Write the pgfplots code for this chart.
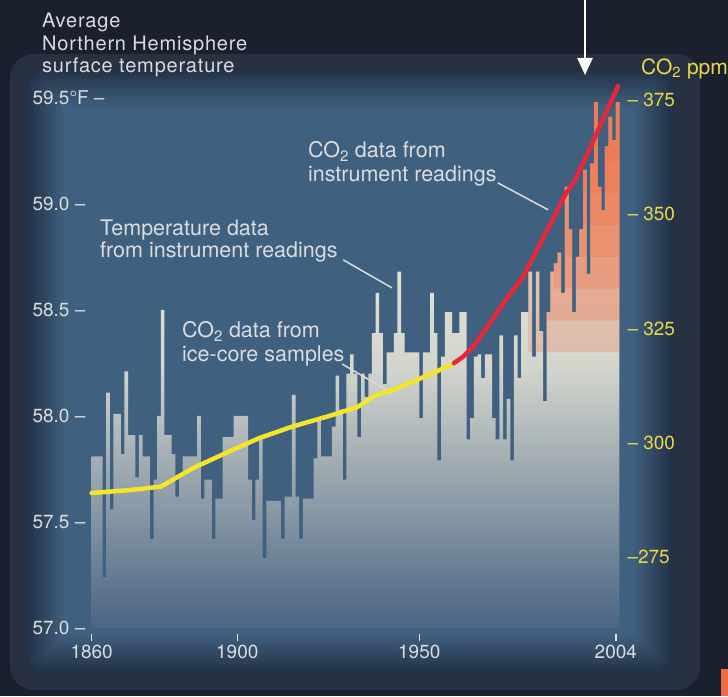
\documentclass[border=0pt]{standalone}
\usepackage{fontspec}
\setmainfont{TeX Gyre Heros}
\newfontfamily\widefont[LetterSpace=4]{TeX Gyre Heros}
\usepackage{pgfplots}
\pgfplotsset{compat=1.18}
\usetikzlibrary{arrows.meta}
\definecolor{bgdark}{HTML}{1A202D}
\definecolor{framec}{HTML}{283140}
\definecolor{panel}{HTML}{40607F}
\definecolor{paneledge}{HTML}{223145}
\definecolor{barlow}{HTML}{4A6583}
\definecolor{barmid}{HTML}{D4D6CE}
\definecolor{bartop}{HTML}{F8F1DA}
\definecolor{hot}{HTML}{EF6A40}
\definecolor{co2yellow}{HTML}{F4E52C}
\definecolor{co2red}{HTML}{E6283A}
\definecolor{labelyellow}{HTML}{E8D94A}
\definecolor{txt}{HTML}{DADCDE}
\pgfplotsset{warm/.style={const plot mark left, draw=none, fill=hot, fill opacity=0.24}}

\begin{document}
\begin{tikzpicture}[x=1pt,y=1pt]
% page background and panel
\fill[bgdark] (0,0) rectangle (728,696);
\fill[framec, rounded corners=24pt] (10,6) rectangle (700,642);
\foreach \i in {0,...,14} {
  \pgfmathsetmacro\ins{\i*2.8}
  \pgfmathsetmacro\mix{\i*100/14}
  \pgfmathsetmacro\rc{max(20-\ins,2)}
  \fill[panel!\mix!paneledge, rounded corners=\rc pt]
    (25+\ins,21+\ins) rectangle (674-\ins,628-\ins);
}

\begin{axis}[
  at={(88pt,61.6pt)}, anchor=south west,
  scale only axis, width=536pt, height=562pt,
  xmin=1859, xmax=2006.24, ymin=56.97, ymax=59.62,
  clip=false,
  axis line style={draw=none},
  xtick={1860,1900,1950,2004},
  xticklabels={1860,1900,1950,2004},
  xtick pos=bottom, ytick pos=left,
  tick align=outside,
  major tick length=7pt,
  x tick style={draw=txt, line width=1.3pt},
  y tick style={draw=none},
  ytick={57,57.5,58,58.5,59,59.5},
  yticklabels={57.0 --, 57.5 --, 58.0 --, 58.5 --, 59.0 --, 59.5°F --},
  yticklabel style={anchor=west, xshift=-52pt, text=txt, font=\fontsize{19}{19}\selectfont},
  xticklabel style={text=txt, font=\fontsize{19}{19}\selectfont},
  /pgf/number format/assume math mode=true,
]
% temperature bars (annual values, deg F)
\addplot[const plot mark left, draw=none,
  top color=bartop, bottom color=barlow, middle color=barmid]
coordinates {
(1860,57.0)
(1860,57.81)(1861,57.81)(1862,57.81)(1863,57.24)(1864,58.11)(1865,57.56)(1866,58.01)(1867,58.01)(1868,57.82)(1869,58.21)
(1870,57.91)(1871,57.91)(1872,57.71)(1873,57.91)(1874,57.81)(1875,57.81)(1876,57.42)(1877,57.70)(1878,58.00)(1879,58.50)
(1880,57.91)(1881,57.91)(1882,57.82)(1883,57.62)(1884,57.71)(1885,57.81)(1886,57.81)(1887,57.81)(1888,57.81)(1889,58.00)
(1890,57.61)(1891,57.70)(1892,57.70)(1893,57.42)(1894,57.61)(1895,57.61)(1896,57.90)(1897,57.90)(1898,57.90)(1899,58.00)
(1900,58.00)(1901,58.00)(1902,58.00)(1903,57.70)(1904,57.51)(1905,57.70)(1906,57.90)(1907,57.33)(1908,57.60)(1909,57.60)
(1910,57.60)(1911,57.60)(1912,57.42)(1913,57.62)(1914,57.62)(1915,58.10)(1916,57.62)(1917,57.42)(1918,57.61)(1919,57.61)
(1920,57.61)(1921,57.80)(1922,57.99)(1923,57.81)(1924,57.81)(1925,57.81)(1926,57.95)(1927,58.19)(1928,58.03)(1929,57.70)
(1930,58.20)(1931,58.29)(1932,58.20)(1933,57.90)(1934,58.20)(1935,58.09)(1936,58.20)(1937,58.39)(1938,58.58)(1939,58.39)
(1940,58.15)(1941,58.30)(1942,58.30)(1943,58.39)(1944,58.68)(1945,58.39)(1946,58.30)(1947,58.30)(1948,58.30)(1949,58.30)
(1950,57.99)(1951,58.30)(1952,58.30)(1953,58.58)(1954,58.39)(1955,57.79)(1956,58.28)(1957,58.49)(1958,58.49)(1959,58.39)
(1960,58.39)(1961,58.49)(1962,58.49)(1963,57.89)(1964,57.99)(1965,58.28)(1966,58.29)(1967,58.18)(1968,58.29)(1969,58.29)
(1970,57.99)(1971,57.89)(1972,58.38)(1973,57.89)(1974,58.08)(1975,57.79)(1976,58.38)(1977,58.18)(1978,58.49)(1979,58.49)
(1980,58.68)(1981,58.28)(1982,58.68)(1983,58.40)(1984,58.07)(1985,58.49)(1986,58.68)(1987,58.72)(1988,58.77)(1989,58.58)
(1990,59.08)(1991,58.88)(1992,58.49)(1993,58.75)(1994,58.88)(1995,59.16)(1996,58.67)(1997,59.19)(1998,59.48)(1999,59.08)
(2000,58.97)(2001,59.27)(2002,59.41)(2003,59.30)(2004,59.48)
(2005,59.48)(2005,57.0)
};
% warm tint of the recent bars: same values, stacked translucent layers above rising floors
\addplot[warm] coordinates {(1980,58.30)(1980,58.68)(1981,58.30)(1982,58.68)(1983,58.40)(1984,58.30)(1985,58.49)(1986,58.68)(1987,58.72)(1988,58.77)(1989,58.58)(1990,59.08)(1991,58.88)(1992,58.49)(1993,58.75)(1994,58.88)(1995,59.16)(1996,58.67)(1997,59.19)(1998,59.48)(1999,59.08)(2000,58.97)(2001,59.27)(2002,59.41)(2003,59.30)(2004,59.48)(2005,59.48)(2005,58.30)};
\addplot[warm] coordinates {(1984,58.45)(1984,58.45)(1985,58.49)(1986,58.68)(1987,58.72)(1988,58.77)(1989,58.58)(1990,59.08)(1991,58.88)(1992,58.49)(1993,58.75)(1994,58.88)(1995,59.16)(1996,58.67)(1997,59.19)(1998,59.48)(1999,59.08)(2000,58.97)(2001,59.27)(2002,59.41)(2003,59.30)(2004,59.48)(2005,59.48)(2005,58.45)};
\addplot[warm] coordinates {(1987,58.60)(1987,58.72)(1988,58.77)(1989,58.60)(1990,59.08)(1991,58.88)(1992,58.60)(1993,58.75)(1994,58.88)(1995,59.16)(1996,58.67)(1997,59.19)(1998,59.48)(1999,59.08)(2000,58.97)(2001,59.27)(2002,59.41)(2003,59.30)(2004,59.48)(2005,59.48)(2005,58.60)};
\addplot[warm] coordinates {(1990,58.75)(1990,59.08)(1991,58.88)(1992,58.75)(1993,58.75)(1994,58.88)(1995,59.16)(1996,58.75)(1997,59.19)(1998,59.48)(1999,59.08)(2000,58.97)(2001,59.27)(2002,59.41)(2003,59.30)(2004,59.48)(2005,59.48)(2005,58.75)};
\addplot[warm] coordinates {(1993,58.90)(1993,58.90)(1994,58.90)(1995,59.16)(1996,58.90)(1997,59.19)(1998,59.48)(1999,59.08)(2000,58.97)(2001,59.27)(2002,59.41)(2003,59.30)(2004,59.48)(2005,59.48)(2005,58.90)};
\addplot[warm] coordinates {(1995,59.05)(1995,59.16)(1996,59.05)(1997,59.19)(1998,59.48)(1999,59.08)(2000,59.05)(2001,59.27)(2002,59.41)(2003,59.30)(2004,59.48)(2005,59.48)(2005,59.05)};
\addplot[warm] coordinates {(1997,59.20)(1997,59.20)(1998,59.48)(1999,59.20)(2000,59.20)(2001,59.27)(2002,59.41)(2003,59.30)(2004,59.48)(2005,59.48)(2005,59.20)};
% annotations
\draw[txt, line width=1.5pt] (axis cs:1929.1,58.736) -- (axis cs:1942.5,58.604);
\draw[txt, line width=1.5pt] (axis cs:1928.8,58.245) -- (axis cs:1942.5,58.108);
\draw[txt, line width=1.5pt] (axis cs:1971.6,59.099) -- (axis cs:1985.4,58.972);
\node[anchor=north west, align=left, inner sep=0pt, text=txt, font=\fontsize{21.5}{22}\selectfont]
  at (axis cs:1862.3,58.925) {Temperature data\\from instrument readings};
\node[anchor=north west, align=left, inner sep=0pt, text=txt, font=\fontsize{21.5}{23.5}\selectfont]
  at (axis cs:1884.8,58.445) {CO\textsubscript{2} data from\\ice-core samples};
\node[anchor=north west, align=left, inner sep=0pt, text=txt, font=\fontsize{21.5}{23.5}\selectfont]
  at (axis cs:1919.4,59.295) {CO\textsubscript{2} data from\\instrument readings};
\end{axis}

\begin{axis}[
  at={(88pt,61.6pt)}, anchor=south west,
  scale only axis, width=536pt, height=562pt,
  xmin=1859, xmax=2006.24, ymin=258.06, ymax=381.04,
  clip=false,
  hide x axis,
  axis y line*=right,
  axis line style={draw=none},
  y tick style={draw=none},
  ytick={275,300,325,350,375},
  yticklabels={--275, -- 300, -- 325, -- 350, -- 375},
  yticklabel style={anchor=west, xshift=0pt, text=labelyellow, font=\fontsize{19}{19}\selectfont},
  /pgf/number format/assume math mode=true,
]
% CO2 from ice cores (ppm)
\addplot[co2yellow, line width=4.5pt, line cap=round, line join=round]
coordinates {
(1860,289.0)(1870,289.6)(1879,290.4)(1888,294.5)(1897,297.8)(1906,301.0)(1915,303.5)
(1925,305.8)(1933,307.8)(1938,310.4)(1943,311.6)(1948,313.3)(1954,315.3)(1959.5,317.4)
};
% CO2 from instrument readings (ppm)
\addplot[co2red, line width=4.5pt, line cap=round, line join=round]
coordinates {
(1959.5,317.4)(1962,318.8)(1964.8,321.0)(1969.4,326.2)(1974,331.5)(1978.5,336.3)
(1983.5,344.0)(1986,347.8)(1990,354.2)(1992.8,357.5)(1997.4,365.3)(2000,370.0)(2004.6,378.0)
};
\end{axis}

% title, right axis name, arrow
\node[anchor=north west, align=left, inner sep=0pt, text=txt, font=\widefont\fontsize{20}{22.5}\selectfont]
  at (42,683) {Average\\Northern Hemisphere\\surface temperature};
\node[anchor=west, inner sep=0pt, text=labelyellow, font=\fontsize{21}{21}\selectfont]
  at (641,627) {CO\textsubscript{2} ppm};
\draw[white, line width=2.5pt, -{Triangle[width=15pt,length=17pt]}] (585,700) -- (585,621);
\fill[hot] (721,0) rectangle (728,27);

\pgfresetboundingbox
\path (0,0) rectangle (728,696);
\end{tikzpicture}
\end{document}
